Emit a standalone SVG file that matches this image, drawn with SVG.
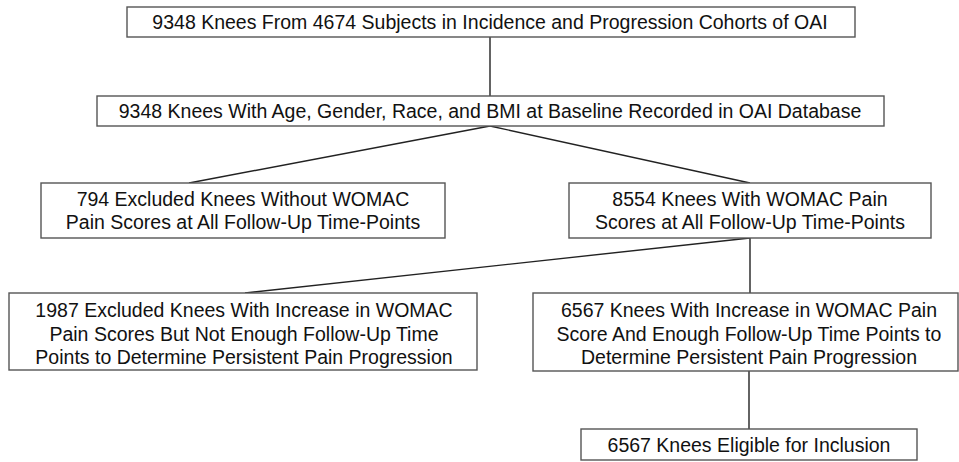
<svg xmlns="http://www.w3.org/2000/svg" width="959" height="462" viewBox="0 0 959 462">
<style>
.box{fill:#fff;stroke:#555;stroke-width:1.4}
.t{font-family:"Liberation Sans",Arial,sans-serif;font-size:19.5px;fill:#111;text-anchor:middle}
.c{stroke:#222;stroke-width:1.4;fill:none}
</style>
<rect width="959" height="462" fill="#fff"/>
<g id="connectors">
<line class="c" x1="490" y1="37" x2="490" y2="96"/>
<line class="c" x1="490" y1="126" x2="189" y2="183"/>
<line class="c" x1="490" y1="126" x2="750" y2="183"/>
<line class="c" x1="750" y1="238" x2="245" y2="293"/>
<line class="c" x1="750" y1="238" x2="750" y2="293"/>
<line class="c" x1="749" y1="371" x2="749" y2="429"/>
</g>
<g id="n1">
<rect class="box" x="127" y="7" width="728" height="30"/>
<text class="t" x="490" y="29">9348 Knees From 4674 Subjects in Incidence and Progression Cohorts of OAI</text>
</g>
<g id="n2">
<rect class="box" x="97" y="96" width="787" height="30"/>
<text class="t" x="490" y="118">9348 Knees With Age, Gender, Race, and BMI at Baseline Recorded in OAI Database</text>
</g>
<g id="n3">
<rect class="box" x="41" y="183" width="404" height="55"/>
<text class="t" x="243" y="205.5">794 Excluded Knees Without WOMAC</text>
<text class="t" x="243" y="229">Pain Scores at All Follow-Up Time-Points</text>
</g>
<g id="n4">
<rect class="box" x="569" y="183" width="362" height="55"/>
<text class="t" x="750" y="205.5">8554 Knees With WOMAC Pain</text>
<text class="t" x="750" y="229">Scores at All Follow-Up Time-Points</text>
</g>
<g id="n5">
<rect class="box" x="9" y="293" width="468" height="77"/>
<text class="t" x="244" y="316.5">1987 Excluded Knees With Increase in WOMAC</text>
<text class="t" x="244" y="340.5">Pain Scores But Not Enough Follow-Up Time</text>
<text class="t" x="244" y="364">Points to Determine Persistent Pain Progression</text>
</g>
<g id="n6">
<rect class="box" x="533" y="293" width="425" height="78"/>
<text class="t" x="749" y="316.5">6567 Knees With Increase in WOMAC Pain</text>
<text class="t" x="749" y="340.5">Score And Enough Follow-Up Time Points to</text>
<text class="t" x="749" y="364">Determine Persistent Pain Progression</text>
</g>
<g id="n7">
<rect class="box" x="581" y="429" width="336" height="31"/>
<text class="t" x="749" y="451.5">6567 Knees Eligible for Inclusion</text>
</g>
</svg>
